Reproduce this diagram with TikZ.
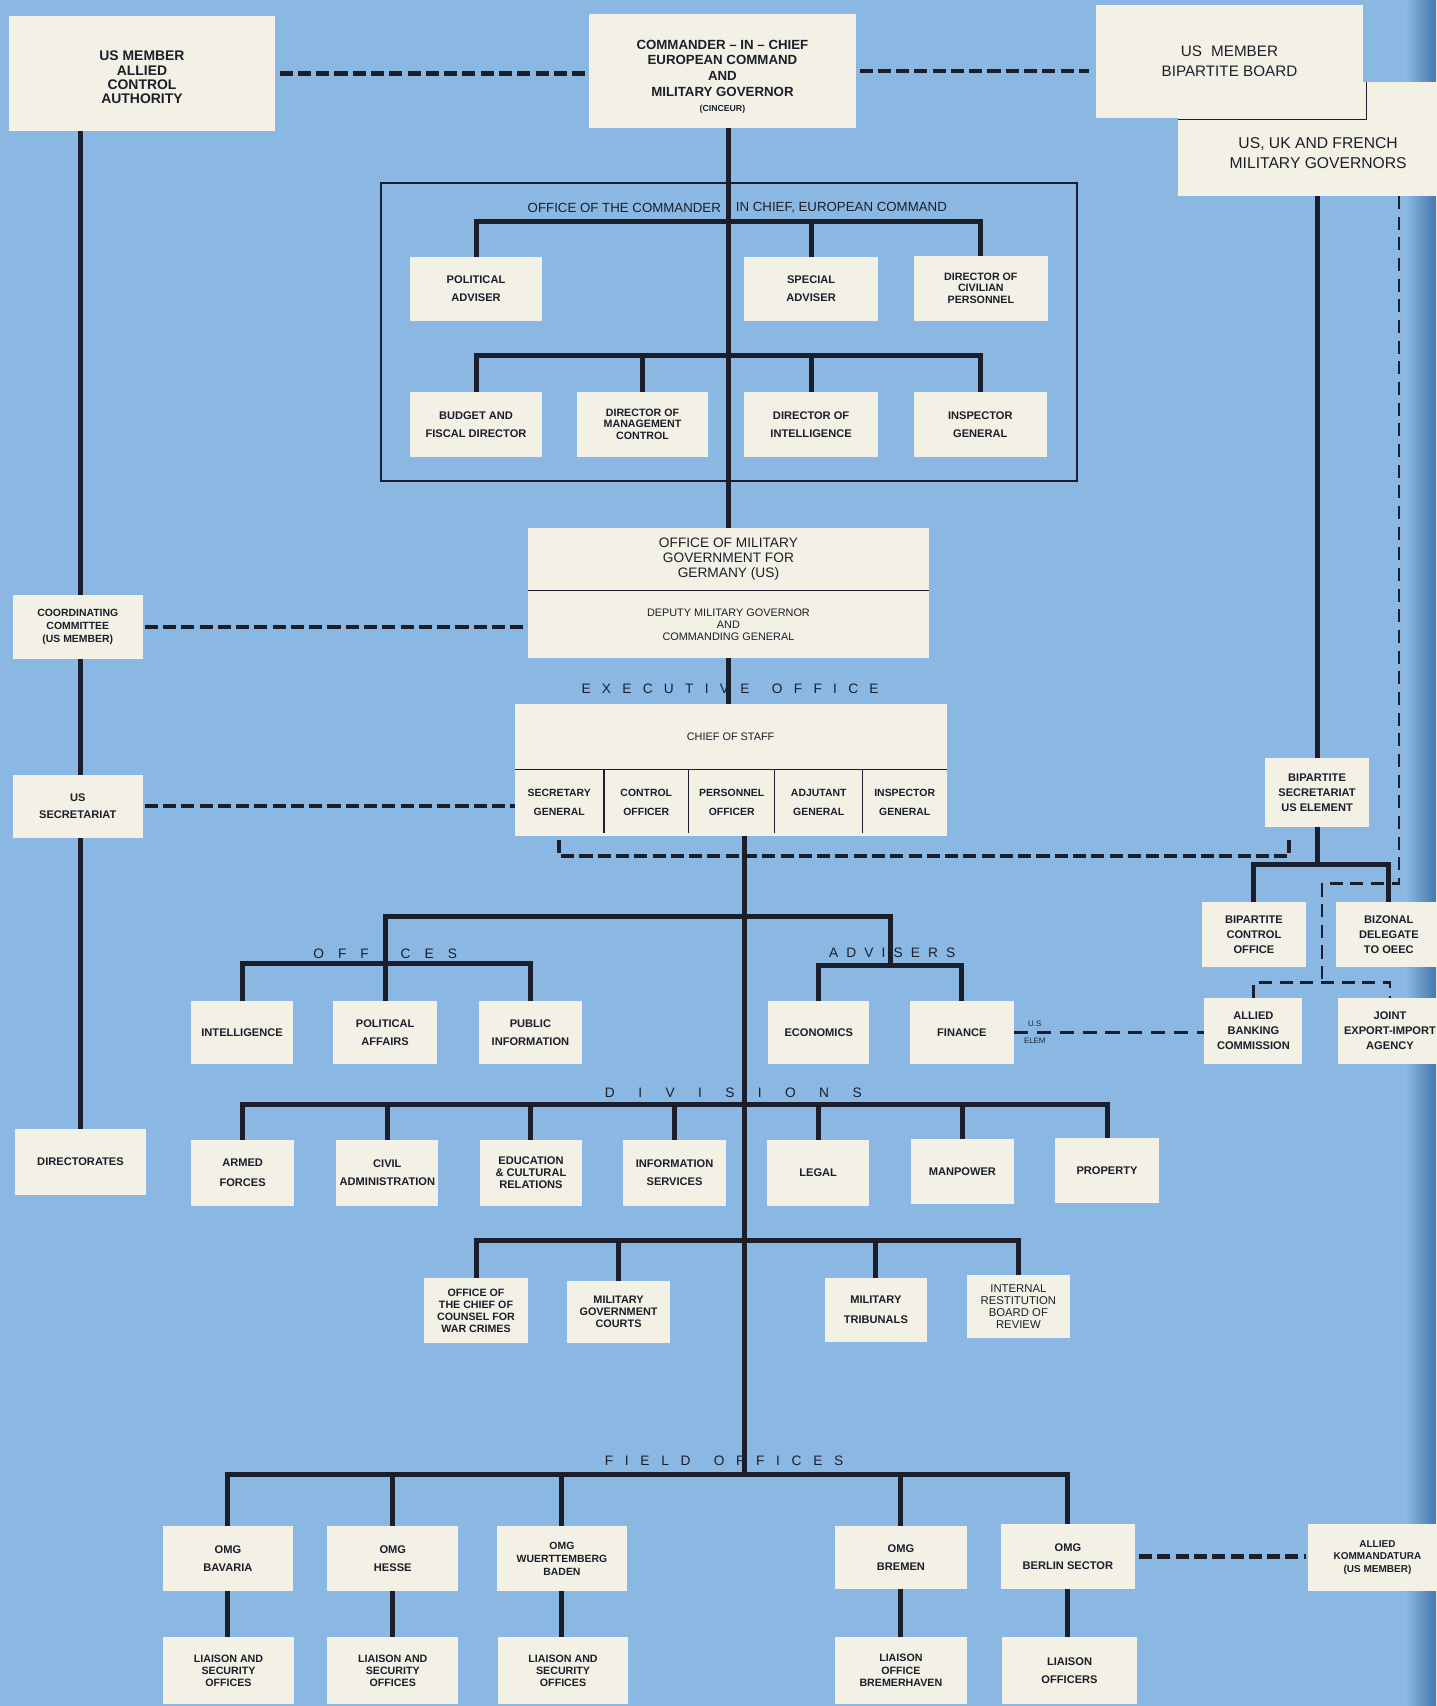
\documentclass[tikz,border=0pt]{standalone}
\usepackage{fontspec}
\setmainfont{Liberation Sans}
\usetikzlibrary{calc}
\definecolor{bgblue}{RGB}{139,184,226}
\definecolor{edgeblue}{RGB}{70,118,172}
\definecolor{paper}{RGB}{243,240,229}
\definecolor{ink}{RGB}{26,31,43}
\pgfdeclarelayer{bglayer}
\pgfdeclarelayer{linelayer}
\pgfsetlayers{bglayer,linelayer,main}
\newcommand\obox[7][]{\node[box,minimum width={(#5-#3)*0.5pt},minimum height={(#6-#4)*0.5pt},#1] (#2) at ({(#3+#5)/2},{(#4+#6)/2}) {#7};}
\tikzset{
  box/.style={fill=paper,inner sep=0pt,outer sep=0pt,align=center,text=ink,font=\fontsize{5.1}{8.2}\selectfont\bfseries},
  tight/.style={font=\fontsize{4.9}{5.5}\selectfont\bfseries},
  mid/.style={font=\fontsize{5.1}{6.8}\selectfont\bfseries},
  conn/.style={draw=ink,line width=2.3pt,line join=miter},
  dashthick/.style={draw=ink,line width=2pt,dash pattern=on 6pt off 2.4pt},
  dashthin/.style={draw=ink,line width=1.1pt,dash pattern=on 6pt off 3.5pt},
  dashmid/.style={draw=ink,line width=1.5pt,dash pattern=on 6.5pt off 4pt},
  frame/.style={draw=ink,line width=0.8pt},
  divider/.style={draw=ink,line width=0.6pt},
  spaced/.style={text=ink,inner sep=0pt,font=\fontsize{6.3}{7}\selectfont},
}
\begin{document}
\begin{tikzpicture}[x=0.5pt,y=-0.5pt]
\useasboundingbox (0,0) rectangle (1320,1568);
\begin{pgfonlayer}{bglayer}
\fill[bgblue] (0,0) rectangle (1320,1568);
\shade[left color=bgblue,right color=edgeblue] (1292,0) rectangle (1320,1568);
\end{pgfonlayer}

% ---------- top row ----------
\obox[label={[text=ink,align=center,font=\fontsize{6.4}{6.5}\selectfont\bfseries,yshift=-1.8pt]center:{US MEMBER\\ALLIED\\CONTROL\\AUTHORITY}}]{aca}{8}{15}{253}{120}{}
\obox[label={[text=ink,align=center,font=\fontsize{6.1}{7.2}\selectfont\bfseries,yshift=-2.6pt]center:{COMMANDER -- IN -- CHIEF\\EUROPEAN COMMAND\\AND\\MILITARY GOVERNOR\\{\fontsize{4}{5}\selectfont (CINCEUR)}}}]{cinc}{541}{13}{787}{118}{}
\obox[label={[text=ink,align=center,font=\fontsize{7.2}{9}\selectfont,yshift=-6.5pt]center:{US, UK AND FRENCH\\MILITARY GOVERNORS}}]{gov}{1083}{75}{1340}{180}{}
\obox[font=\fontsize{7}{9}\selectfont]{board}{1007}{5}{1253}{108}{US\hspace{0.6em}MEMBER\\BIPARTITE BOARD}
\draw[divider] ($(board.south west -| gov.west)+(0,2)$) -- ($(board.south east)+(3,2)$) -- ($(board.east |- gov.north)+(3,0)$);

% ---------- office of the CinC ----------
\obox[fill=none,frame]{officeframe}{350}{168}{990}{442}{}
\node[spaced,font=\fontsize{6.1}{7}\selectfont,anchor=east] (oct1) at (663,191) {OFFICE OF THE COMMANDER};
\node[spaced,font=\fontsize{6.1}{7}\selectfont,anchor=west] (oct2) at (676,191) {IN CHIEF, EUROPEAN COMMAND};
\obox{polad}{377}{236}{498}{295}{POLITICAL\\ADVISER}
\obox{specadv}{684}{236}{807}{295}{SPECIAL\\ADVISER}
\obox[tight]{dirciv}{840}{235}{963}{295}{DIRECTOR OF\\CIVILIAN\\PERSONNEL}
\obox{budget}{377}{360}{498}{420}{BUDGET AND\\FISCAL DIRECTOR}
\obox[tight]{mgmt}{530}{360}{651}{420}{DIRECTOR OF\\MANAGEMENT\\CONTROL}
\obox{dirint}{684}{360}{807}{420}{DIRECTOR OF\\INTELLIGENCE}
\obox{insgen}{840}{360}{962}{420}{INSPECTOR\\GENERAL}

% ---------- OMGUS ----------
\obox[font=\fontsize{6.3}{7}\selectfont]{omgus}{485}{485}{854}{543}{OFFICE OF MILITARY\\GOVERNMENT FOR\\GERMANY (US)}
\obox[font=\fontsize{5}{5.6}\selectfont]{dmg}{485}{543}{854}{605}{DEPUTY MILITARY GOVERNOR\\AND\\COMMANDING GENERAL}
\draw[divider] (omgus.south west) -- (omgus.south east);

\node[spaced] (lexec) at (671,633) {\makebox[136.5pt][s]{E\hfill X\hfill E\hfill C\hfill U\hfill T\hfill I\hfill V\hfill E\hfill\hfill O\hfill F\hfill F\hfill I\hfill C\hfill E}};

\obox[font=\fontsize{5}{6}\selectfont]{cos}{473}{647}{870}{707}{CHIEF OF STAFF}
\obox[font=\fontsize{4.8}{8.5}\selectfont\bfseries]{sg}{473}{707}{555}{768}{SECRETARY\\GENERAL}
\obox[font=\fontsize{4.8}{8.5}\selectfont\bfseries]{co}{555}{707}{633}{768}{CONTROL\\OFFICER}
\obox[font=\fontsize{4.8}{8.5}\selectfont\bfseries]{po}{633}{707}{712}{768}{PERSONNEL\\OFFICER}
\obox[font=\fontsize{4.8}{8.5}\selectfont\bfseries]{ag}{712}{707}{793}{768}{ADJUTANT\\GENERAL}
\obox[font=\fontsize{4.8}{8.5}\selectfont\bfseries]{ig}{793}{707}{870}{768}{INSPECTOR\\GENERAL}
\draw[divider] (cos.south west) -- (cos.south east);
\foreach \n in {sg,co,po,ag} \draw[divider] (\n.north east) -- ([yshift=1pt]\n.south east);

% ---------- left column ----------
\obox[font=\fontsize{4.8}{6}\selectfont\bfseries]{cc}{12}{547}{131}{606}{COORDINATING\\COMMITTEE\\(US MEMBER)}
\obox{ussec}{12}{712}{131}{770}{US\\SECRETARIAT}
\obox{dirs}{14}{1038}{134}{1098}{DIRECTORATES}

% ---------- right column ----------
\obox[mid]{bipsec}{1163}{697}{1258}{760}{BIPARTITE\\SECRETARIAT\\US ELEMENT}
\obox[mid]{bco}{1105}{829}{1200}{889}{BIPARTITE\\CONTROL\\OFFICE}
\obox[mid]{bizonal}{1228}{829}{1325}{889}{BIZONAL\\DELEGATE\\TO OEEC}
\obox[mid]{banking}{1107}{917}{1197}{978}{ALLIED\\BANKING\\COMMISSION}
\obox[mid]{jeia}{1230}{917}{1325}{978}{JOINT\\EXPORT-IMPORT\\AGENCY}

% ---------- offices and advisers ----------
\node[spaced] (loffices) at (354,877) {\makebox[66pt][s]{O\hfill F\hfill F\hfill I\hfill C\hfill E\hfill S}};
\node[spaced] (ladvisers) at (820,876) {\makebox[58pt][s]{A\hfill D\hfill V\hfill I\hfill S\hfill E\hfill R\hfill S}};
\obox{intel}{176}{920}{269}{978}{INTELLIGENCE}
\obox{polaff}{306}{920}{402}{978}{POLITICAL\\AFFAIRS}
\obox{pubinfo}{440}{920}{535}{978}{PUBLIC\\INFORMATION}
\obox{econ}{706}{920}{799}{978}{ECONOMICS}
\obox{fin}{836}{920}{932}{978}{FINANCE}
\node[text=ink,inner sep=0pt,font=\fontsize{3.6}{4}\selectfont] (lus) at (951,941) {U.S};
\node[text=ink,inner sep=0pt,font=\fontsize{3.6}{4}\selectfont] (lelem) at (951,957) {ELEM};

% ---------- divisions ----------
\node[spaced] (ldiv) at (674,1004) {\makebox[118pt][s]{D\hfill I\hfill V\hfill I\hfill S\hfill I\hfill O\hfill N\hfill S}};
\obox[font=\fontsize{5.1}{9}\selectfont\bfseries]{armed}{176}{1048}{270}{1108}{ARMED\\FORCES}
\obox{civil}{309}{1048}{403}{1108}{CIVIL\\ADMINISTRATION}
\obox[font=\fontsize{5.1}{5.6}\selectfont\bfseries]{edu}{441}{1048}{535}{1108}{EDUCATION\\\& CULTURAL\\RELATIONS}
\obox{info}{573}{1048}{667}{1108}{INFORMATION\\SERVICES}
\obox{legal}{705}{1048}{799}{1108}{LEGAL}
\obox{manpower}{837}{1047}{932}{1107}{MANPOWER}
\obox{property}{970}{1046}{1065}{1106}{PROPERTY}

% ---------- courts ----------
\obox[font=\fontsize{4.9}{5.5}\selectfont\bfseries]{counsel}{390}{1175}{485}{1234}{OFFICE OF\\THE CHIEF OF\\COUNSEL FOR\\WAR CRIMES}
\obox[font=\fontsize{5}{5.6}\selectfont\bfseries]{mgc}{521}{1177}{616}{1234}{MILITARY\\GOVERNMENT\\COURTS}
\obox[font=\fontsize{5.1}{9}\selectfont\bfseries]{tribunals}{758}{1175}{852}{1233}{MILITARY\\TRIBUNALS}
\obox[font=\fontsize{5.2}{5.4}\selectfont]{irb}{889}{1172}{983}{1230}{INTERNAL\\RESTITUTION\\BOARD OF\\REVIEW}

% ---------- field offices ----------
\node[spaced] (lfield) at (665.5,1343) {\makebox[109.5pt][s]{F\hfill I\hfill E\hfill L\hfill D\hfill\hfill O\hfill F\hfill F\hfill I\hfill C\hfill E\hfill S}};
\obox{bav}{150}{1403}{269}{1462}{OMG\\BAVARIA}
\obox{hesse}{301}{1403}{421}{1462}{OMG\\HESSE}
\obox[font=\fontsize{4.8}{6}\selectfont\bfseries]{wb}{457}{1403}{576}{1462}{OMG\\WUERTTEMBERG\\BADEN}
\obox{bremen}{767}{1403}{889}{1460}{OMG\\BREMEN}
\obox{berlin}{920}{1401}{1043}{1460}{OMG\\BERLIN SECTOR}
\obox[font=\fontsize{4.6}{5.8}\selectfont\bfseries]{komm}{1202}{1401}{1330}{1462}{ALLIED\\KOMMANDATURA\\(US MEMBER)}
\obox[font=\fontsize{4.9}{5.5}\selectfont\bfseries]{bavl}{150}{1505}{270}{1566}{LIAISON AND\\SECURITY\\OFFICES}
\obox[font=\fontsize{4.9}{5.5}\selectfont\bfseries]{hessel}{301}{1505}{421}{1566}{LIAISON AND\\SECURITY\\OFFICES}
\obox[font=\fontsize{4.9}{5.5}\selectfont\bfseries]{wbl}{458}{1505}{577}{1566}{LIAISON AND\\SECURITY\\OFFICES}
\obox[font=\fontsize{4.9}{5.7}\selectfont\bfseries]{breml}{767}{1505}{889}{1566}{LIAISON\\OFFICE\\BREMERHAVEN}
\obox[font=\fontsize{5.1}{8.5}\selectfont\bfseries]{berll}{921}{1505}{1045}{1566}{LIAISON\\OFFICERS}

% ---------- connectors ----------
\begin{pgfonlayer}{linelayer}
\coordinate (b1) at (669.5,204);
\coordinate (b2) at (669.5,327);
\coordinate (fieldbar) at (684,1355);
\coordinate (ubar) at (684,842);
\coordinate (advbar) at (818,887);
\coordinate (offbar) at (354,886);
\coordinate (divbar) at (684,1015);
\coordinate (courtbar) at (684,1140);
\coordinate (bbar) at (1210.5,795);
\coordinate (sgr) at (1185,787);
\coordinate (sgt) at (1185,772);
\coordinate (rd1) at (1286,812);
\coordinate (rd2) at (1215,812);
\coordinate (rd3) at (1215,903);

\draw[conn] (aca.south -| dirs.north) -- (dirs.north);
\draw[conn] (cinc.south -| omgus.north) -- (omgus.north);
\draw[conn] (dmg.south) -- (dmg.south |- cos.north);
\draw[conn] (polad.north) |- (b1) -| (dirciv.north);
\draw[conn] (specadv.north) -- (specadv.north |- b1);
\draw[conn] (budget.north) |- (b2) -| (insgen.north);
\draw[conn] (mgmt.north) -- (mgmt.north |- b2);
\draw[conn] (dirint.north) -- (dirint.north |- b2);

\draw[conn] (po.south -| fieldbar) -- (fieldbar);
\draw[conn] (polaff.north) |- (ubar) -| (advbar);
\draw[conn] (intel.north) |- (offbar) -| (pubinfo.north);
\draw[conn] (econ.north) |- (advbar) -| (fin.north);
\draw[conn] (armed.north) |- (divbar) -| (property.north);
\foreach \n in {civil,edu,info,legal,manpower} \draw[conn] (\n.north) -- (\n.north |- divbar);
\draw[conn] (counsel.north) |- (courtbar) -| (irb.north);
\foreach \n in {mgc,tribunals} \draw[conn] (\n.north) -- (\n.north |- courtbar);
\draw[conn] (bav.north) |- (fieldbar) -| (berlin.north);
\foreach \n in {hesse,wb,bremen} \draw[conn] (\n.north) -- (\n.north |- fieldbar);
\draw[conn] (bav.south) -- (bav.south |- bavl.north);
\draw[conn] (hesse.south) -- (hesse.south |- hessel.north);
\draw[conn] (wb.south) -- (wb.south |- wbl.north);
\draw[conn] (bremen.south) -- (bremen.south |- breml.north);
\draw[conn] (berlin.south) -- (berlin.south |- berll.north);

\draw[conn] (gov.south -| bipsec.north) -- (bipsec.north);
\draw[conn] (bipsec.south) -- (bbar);
\draw[conn] (bco.north) |- (bbar) -| (bizonal.north);

\draw[dashthick,shorten <=2pt,shorten >=1pt] (aca.east) -- (aca.east -| cinc.west);
\draw[dashthick,shorten <=1.5pt,shorten >=3pt] (cinc.east) -- (cinc.east -| board.west);
\draw[dashthick,shorten <=1pt] (cc.east) -- (cc.east -| dmg.west);
\draw[dashthick,shorten <=1pt] (ussec.east) -- (ussec.east -| sg.west);
\draw[dashthick,shorten <=2pt] (sg.south) |- (sgr) -- (sgt);
\draw[dashthick,shorten <=2pt,shorten >=1pt] (berlin.east) -- (berlin.east -| komm.west);
\draw[dashmid] (fin.east) -- (fin.east -| banking.west);
\draw[dashthin] (gov.south -| rd1) -- (rd1) -- (rd2) -- (rd3);
\draw[dashthin] (banking.north) |- (rd3) -| (jeia.north);
\end{pgfonlayer}
\end{tikzpicture}
\end{document}
